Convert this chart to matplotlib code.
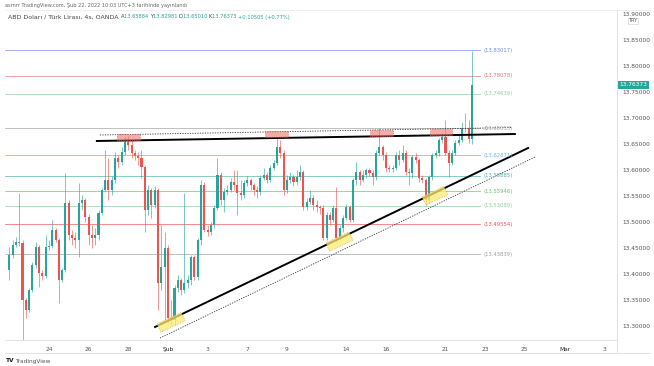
import numpy as np
import matplotlib.pyplot as plt
from matplotlib.patches import Rectangle, Polygon

W, H = 654, 366

# --- DATA (USD/TRY 4h, OANDA) ---
first_open = 13.4077
closes = [13.4365, 13.4558, 13.4615, 13.4596, 13.3500, 13.3308, 13.3692, 13.4173, 13.4519, 13.4019,
          13.3962, 13.4519, 13.4538, 13.4846, 13.4654, 13.3885, 13.4077, 13.5365, 13.4750, 13.4692,
          13.4654, 13.5365, 13.5423, 13.5096, 13.4750, 13.4692, 13.4750, 13.5173, 13.5615, 13.5808,
          13.5615, 13.5808, 13.6231, 13.6154, 13.6346, 13.6538, 13.6481, 13.6327, 13.6269, 13.6231,
          13.6058, 13.5231, 13.5615, 13.5327, 13.5615, 13.3827, 13.4135, 13.4500, 13.3154, 13.3115,
          13.3731, 13.3885, 13.3692, 13.3827, 13.3885, 13.4327, 13.3942, 13.4654, 13.5712, 13.4846,
          13.4808, 13.4942, 13.5269, 13.5904, 13.5423, 13.5577, 13.5615, 13.5769, 13.5712, 13.5558,
          13.5519, 13.5750, 13.5808, 13.5712, 13.5615, 13.5577, 13.5846, 13.5904, 13.5808, 13.6038,
          13.6135, 13.6442, 13.6327, 13.5615, 13.5808, 13.5865, 13.5769, 13.5865, 13.5962, 13.5288,
          13.5385, 13.5462, 13.5327, 13.5288, 13.5269, 13.4692, 13.5135, 13.5038, 13.5269, 13.4692,
          13.4885, 13.5077, 13.5288, 13.5038, 13.5808, 13.5962, 13.5808, 13.5904, 13.6000, 13.5942,
          13.5865, 13.6327, 13.6442, 13.6288, 13.6038, 13.6019, 13.6038, 13.6288, 13.6192, 13.6327,
          13.5962, 13.5942, 13.6250, 13.6192, 13.5846, 13.5808, 13.5423, 13.5865, 13.6288, 13.6327,
          13.6577, 13.6635, 13.6327, 13.6135, 13.6327, 13.6519, 13.6577, 13.6808, 13.6800, 13.65884,
          13.76373]
highs = [13.4519, 13.4654, 13.4712, 13.5558, 13.4654, 13.3538, 13.3731, 13.4231, 13.4615, 13.4558,
         13.4077, 13.4750, 13.4654, 13.5038, 13.4885, 13.4692, 13.4115, 13.5942, 13.5423, 13.4846,
         13.4808, 13.5750, 13.5519, 13.5462, 13.5154, 13.4942, 13.4885, 13.5231, 13.5654, 13.6385,
         13.6231, 13.5885, 13.6346, 13.6288, 13.6442, 13.6635, 13.6654, 13.6577, 13.6385, 13.6346,
         13.6385, 13.6096, 13.5712, 13.5654, 13.5692, 13.5654, 13.4942, 13.4808, 13.4558, 13.3500,
         13.3788, 13.3981, 13.3923, 13.5558, 13.3981, 13.4365, 13.4365, 13.4692, 13.5808, 13.5769,
         13.4942, 13.5000, 13.5327, 13.6231, 13.5962, 13.5654, 13.5712, 13.5846, 13.6000, 13.6000,
         13.5808, 13.5808, 13.5885, 13.5846, 13.5750, 13.5692, 13.5904, 13.6038, 13.5962, 13.6096,
         13.6192, 13.6615, 13.6577, 13.6385, 13.5904, 13.5962, 13.5904, 13.6000, 13.6096, 13.6000,
         13.5462, 13.5615, 13.5519, 13.5423, 13.5327, 13.5327, 13.5192, 13.5192, 13.5327, 13.5673,
         13.4942, 13.5135, 13.5346, 13.5327, 13.5846, 13.6154, 13.6000, 13.6000, 13.6038, 13.6038,
         13.6000, 13.6385, 13.6808, 13.6481, 13.6346, 13.6096, 13.6096, 13.6346, 13.6385, 13.6481,
         13.6385, 13.6038, 13.6288, 13.6327, 13.6231, 13.5904, 13.5846, 13.5904, 13.6327, 13.6385,
         13.6615, 13.6712, 13.6962, 13.6385, 13.6385, 13.6577, 13.6673, 13.6923, 13.7096, 13.6962,
         13.82981]
lows = [13.3885, 13.4308, 13.4519, 13.4538, 13.2731, 13.3154, 13.3269, 13.3654, 13.4115, 13.3750,
        13.3885, 13.3923, 13.4462, 13.4500, 13.4615, 13.3442, 13.3846, 13.4038, 13.4654, 13.4558,
        13.4500, 13.4327, 13.5231, 13.5000, 13.4558, 13.4500, 13.4558, 13.4654, 13.5135, 13.5577,
        13.5423, 13.5519, 13.5750, 13.6038, 13.6096, 13.6288, 13.6385, 13.6231, 13.6192, 13.6096,
        13.5846, 13.4808, 13.5135, 13.5077, 13.5269, 13.3308, 13.3692, 13.3115, 13.3058, 13.3019,
        13.3019, 13.3654, 13.3596, 13.3635, 13.3731, 13.3788, 13.3885, 13.3885, 13.4558, 13.4808,
        13.4731, 13.4750, 13.4885, 13.5231, 13.5327, 13.5192, 13.5519, 13.5577, 13.5615, 13.5135,
        13.5423, 13.5462, 13.5692, 13.5615, 13.5519, 13.5462, 13.5519, 13.5808, 13.5750, 13.5769,
        13.6000, 13.6096, 13.6231, 13.5519, 13.5558, 13.5750, 13.5692, 13.5712, 13.5808, 13.5231,
        13.5231, 13.5346, 13.5231, 13.5192, 13.5154, 13.4654, 13.4654, 13.4942, 13.5000, 13.4615,
        13.4654, 13.4808, 13.5038, 13.5000, 13.5000, 13.5712, 13.5712, 13.5769, 13.5846, 13.5885,
        13.5712, 13.5808, 13.6288, 13.6192, 13.5962, 13.5962, 13.5962, 13.6000, 13.6096, 13.6154,
        13.5904, 13.5712, 13.5846, 13.6135, 13.5769, 13.5750, 13.5327, 13.5365, 13.5808, 13.6231,
        13.6269, 13.6519, 13.6288, 13.5865, 13.6096, 13.6288, 13.6481, 13.6538, 13.6731, 13.6519,
        13.65010]
opens = [first_open] + closes[:-1]

date_ticks = [11, 23, 35, 47, 59, 71, 83, 101, 113, 131, 143, 155, 167, 179]
date_labels = ["24", "26", "28", "Şub", "3", "7", "9", "14", "16", "21", "23", "25", "Mar", "3"]
price_ticks = [13.30, 13.35, 13.40, 13.45, 13.50, 13.55, 13.60, 13.65, 13.70, 13.75, 13.80, 13.85, 13.90]

level_values = [13.83017, 13.78078, 13.74639, 13.68053, 13.62871, 13.58885, 13.55946, 13.53089, 13.49554, 13.43839]
level_colors = ["#6d8de6", "#e57373", "#8fcf94", "#a0a0a0", "#6fb3e8", "#4fb3a8", "#6cbf72", "#8fcf94", "#ef5350", "#a0a0a0"]

# trend lines drawn on the chart (bar index, price)
resistance = ([25.5, 152.0], [13.6558, 13.6692])
resistance_dotted = ([26.4, 151.1], [13.6673, 13.6817])
support = ([43.1, 156.0], [13.2981, 13.6423])
support_dotted = ([44.6, 158.1], [13.2769, 13.6250])

# touch markers
top_boxes = [(31.6, 38.6, 13.6577, 13.6692), (76.4, 83.4, 13.6635, 13.6750),
             (108.2, 115.1, 13.6654, 13.6769), (126.3, 133.0, 13.6673, 13.6788)]
bottom_boxes = [(43.7, 51.0), (94.8, 101.8), (123.9, 130.5)]

UP, DOWN = "#26a69a", "#ef5350"

fig = plt.figure(figsize=(W / 100, H / 100), dpi=100)
fig.patch.set_facecolor("white")
ax = fig.add_axes([5 / W, 1 - 340 / H, 612 / W, 330 / H])
ax.set_xlim(-2.3, 182.9)
ax.set_ylim(13.2731, 13.9077)

x = np.arange(len(closes)) - 1
o = np.array(opens); c = np.array(closes)
hi = np.array(highs); lo = np.array(lows)
col = np.where(c >= o, UP, DOWN)
ax.vlines(x, lo, hi, colors=col, lw=0.5, alpha=0.85, zorder=3)
body_lo = np.minimum(o, c)
body_h = np.maximum(np.abs(c - o), 0.0015)
ax.bar(x, body_h, bottom=body_lo, width=0.62, color=col, lw=0, zorder=4)

# horizontal levels
for v, cl in zip(level_values, level_colors):
    ax.plot([-2.3, 141.4], [v, v], color=cl, lw=0.55, alpha=0.85, zorder=2)
    ax.text(142.4, v, f"({v:.5f})", color=cl, fontsize=3.8, va="center", ha="left", zorder=6)

# trend lines
ax.plot(*resistance, color="black", lw=1.4, zorder=5)
ax.plot(*support, color="black", lw=1.4, zorder=5)
ax.plot(*resistance_dotted, color="#333333", lw=0.6, ls=(0, (1.5, 1.5)), zorder=5)
ax.plot(*support_dotted, color="#333333", lw=0.6, ls=(0, (1.5, 1.5)), zorder=5)

for x0, x1, y0, y1 in top_boxes:
    ax.add_patch(Rectangle((x0, y0), x1 - x0, y1 - y0, facecolor=(0.94, 0.45, 0.42, 0.6),
                           edgecolor="#d9534f", lw=0.5, ls=":", zorder=6))

sx, sy = support
slope = (sy[1] - sy[0]) / (sx[1] - sx[0])
line = lambda i: sy[0] + slope * (i - sx[0])
up, dn, skew = 0.004, 0.0154, 1.2
for i0, i1 in bottom_boxes:
    pts = [(i0, line(i0) + up), (i1, line(i1) + up),
           (i1 + skew, line(i1 + skew) - dn), (i0 + skew, line(i0 + skew) - dn)]
    ax.add_patch(Polygon(pts, closed=True, facecolor=(1.0, 0.92, 0.45, 0.75),
                         edgecolor="#b8a23a", lw=0.5, ls=":", zorder=6))

# axes styling
for s in ["top", "left"]:
    ax.spines[s].set_visible(False)
ax.spines["right"].set_color("#e0e3eb")
ax.spines["bottom"].set_color("#e0e3eb")
ax.spines["right"].set_linewidth(0.7)
ax.spines["bottom"].set_linewidth(0.7)
ax.yaxis.tick_right()
ax.set_yticks(price_ticks)
ax.set_yticklabels([f"{p:.5f}" for p in price_ticks])
ax.set_xticks(date_ticks)
ax.set_xticklabels(date_labels)
ax.tick_params(axis="both", length=0, labelsize=4.2, colors="#555555")
ax.tick_params(axis="y", pad=4)
ax.tick_params(axis="x", pad=5)
for t in ax.get_xticklabels():
    if t.get_text() in ("Şub", "Mar"):
        t.set_color("#222222")

# current price tag
ax.text(1.004, (13.76373 - 13.2731) / (13.9077 - 13.2731), "13.76373", transform=ax.transAxes,
        fontsize=4.2, color="white", va="center", ha="left", zorder=10,
        bbox=dict(boxstyle="square,pad=0.25", facecolor=UP, edgecolor="none"))
fig.text(633 / W, 1 - 21 / H, "TRY", fontsize=3.6, color="#555555", ha="center", va="center",
         bbox=dict(boxstyle="square,pad=0.15", facecolor="white", edgecolor="#d0d0d0", lw=0.4))

# frame lines
fig.add_artist(plt.Line2D([5 / W, 650 / W], [1 - 353 / H, 1 - 353 / H], color="#e0e3eb", lw=0.7))
fig.add_artist(plt.Line2D([5 / W, 650 / W], [1 - 10 / H, 1 - 10 / H], color="#eeeeee", lw=0.7))
fig.add_artist(plt.Line2D([617 / W, 617 / W], [1 - 353 / H, 1 - 10 / H], color="#e0e3eb", lw=0.7))

# header texts
fig.text(5 / W, 1 - 5 / H, "asrnrr TradingView.com, Şub 22, 2022 10:03 UTC+3 tarihinde yayınlandı",
         fontsize=3.6, color="#666666", va="center", ha="left")

renderer = fig.canvas.get_renderer()
pieces = [("ABD Doları / Türk Lirası, 4s, OANDA ", "#444444", 4.5),
          ("A", "#444444", 3.7), ("13.65884 ", UP, 3.7), ("Y", "#444444", 3.7), ("13.82981 ", UP, 3.7),
          ("D", "#444444", 3.7), ("13.65010 ", UP, 3.7), ("K", "#444444", 3.7), ("13.76373 ", UP, 3.7),
          ("+0.10505 (+0.77%)", UP, 3.7)]
px = 8
for s, cl, fs in pieces:
    t = fig.text(px / W, 1 - 17 / H, s, fontsize=fs, color=cl, va="center", ha="left")
    px += t.get_window_extent(renderer).width

fig.text(6 / W, 1 - 361 / H, "TV", fontsize=4.2, color="#131722", fontweight="bold", va="center")
fig.text(15 / W, 1 - 361 / H, "TradingView", fontsize=4.2, color="#555555", va="center")

fig.savefig("out.png", dpi=100)
